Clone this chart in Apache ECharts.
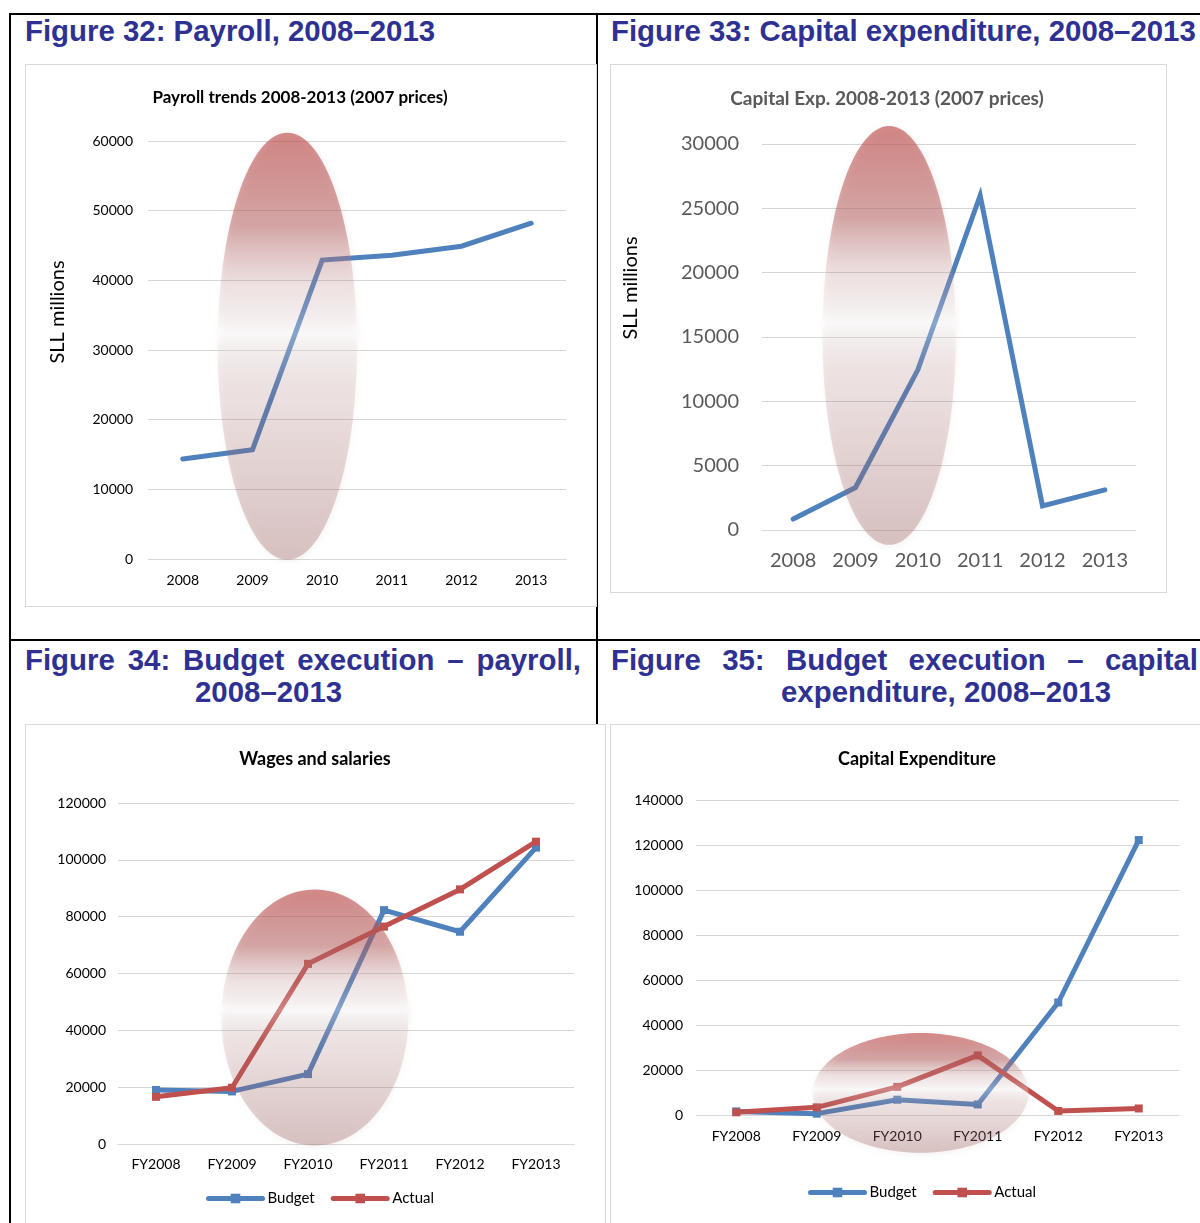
<!DOCTYPE html>
<html>
<head>
<meta charset="utf-8">
<script src="https://cdn.jsdelivr.net/npm/echarts@6/dist/echarts.min.js"></script>
<style>
  body { margin: 0; background: #fff; }
  #page { position: relative; width: 1200px; height: 1223px; overflow: hidden; background: #fff; }
  .rule { position: absolute; background: #000; }
  .head { position: absolute; font-family: "Liberation Sans", Arial, sans-serif; font-weight: bold;
          font-size: 29.4px; line-height: 32px; color: #2E3192; white-space: nowrap; }
  .just { white-space: normal; text-align: justify; text-align-last: justify; }
  .box { position: absolute; border: 1px solid #d9d9d9; box-sizing: border-box; background: #fff; }
</style>
</head>
<body>
<div id="page">
  <div class="rule" style="left:9px;top:13px;width:1191px;height:2px"></div>
  <div class="rule" style="left:9px;top:13px;width:2px;height:1210px"></div>
  <div class="rule" style="left:596px;top:13px;width:2px;height:711px"></div>
  <div class="rule" style="left:9px;top:639px;width:1191px;height:2px"></div>

  <div class="head" style="left:25px;top:15px">Figure 32: Payroll, 2008–2013</div>
  <div class="head" style="left:611px;top:15px">Figure 33: Capital expenditure, 2008–2013</div>
  <div class="head just" style="left:25px;top:644px;width:556px">Figure 34: Budget execution – payroll,</div>
  <div class="head" style="left:195px;top:676px">2008–2013</div>
  <div class="head just" style="left:611px;top:644px;width:587px">Figure 35: Budget execution – capital</div>
  <div class="head" style="left:781px;top:676px">expenditure, 2008–2013</div>

  <div id="c32" class="box" style="left:25px;top:64px;width:572px;height:543px"></div>
  <div id="c33" class="box" style="left:610px;top:64px;width:557px;height:529px"></div>
  <div id="c34" class="box" style="left:25px;top:724px;width:581px;height:520px"></div>
  <div id="c35" class="box" style="left:610px;top:724px;width:600px;height:520px"></div>
</div>
<script>
// categories
const years = ['2008', '2009', '2010', '2011', '2012', '2013'];
const fiscalYears = ['FY2008', 'FY2009', 'FY2010', 'FY2011', 'FY2012', 'FY2013'];

// Figure 32 - payroll (2007 prices), SLL millions
const payrollValues = [14350, 15700, 42900, 43600, 44900, 48200];
// Figure 33 - capital expenditure (2007 prices), SLL millions
const capexValues = [850, 3300, 12450, 26000, 1880, 3120];
// Figure 34 - wages and salaries
const wagesBudget = [19000, 18500, 24600, 82300, 74700, 104300];
const wagesActual = [16600, 19800, 63400, 76500, 89600, 106400];
// Figure 35 - capital expenditure budget execution
const capBudget = [1600, 600, 6800, 4700, 50000, 122200];
const capActual = [1200, 3400, 12500, 26500, 1800, 2900];

// highlight ellipses: [centre category, half width in categories, top value, bottom value]
const hl32 = [1.5, 1.0, 61200, -100];
const hl33 = [1.54, 1.07, 31400, -1150];
const hl34 = [2.09, 1.23, 89600, -500];
const hl35 = [2.29, 1.34, 36500, -16800];

const BLUE = '#4F81BD';
const RED = '#C0504D';
const FONT = 'Lato, "Open Sans", sans-serif';

function baseOption(o) {
  return {
    animation: false,
    textStyle: { fontFamily: FONT },
    title: {
      text: o.title, left: o.titleX, top: o.titleY, textAlign: 'center',
      textStyle: { fontFamily: FONT, fontWeight: 'bold', fontSize: o.titleSize, color: o.titleColor }
    },
    grid: o.grid,
    xAxis: {
      type: 'category', data: o.cats, boundaryGap: true,
      axisLine: { lineStyle: { color: '#d9d9d9', width: 1 } },
      axisTick: { show: false },
      axisLabel: { fontFamily: FONT, fontSize: o.labelSize, color: o.labelColor, margin: o.xMargin }
    },
    yAxis: {
      type: 'value', min: 0, max: o.max, interval: o.step,
      name: o.yName || '', nameLocation: 'middle', nameGap: o.nameGap,
      nameTextStyle: { fontFamily: FONT, fontSize: 20, color: '#000', padding: [0, 0, 0, o.nameShift || 0] },
      axisLine: { show: false }, axisTick: { show: false },
      splitLine: { lineStyle: { color: '#d6d6d6', width: 1 } },
      axisLabel: { fontFamily: FONT, fontSize: o.labelSize, color: o.labelColor, margin: o.yMargin,
                   formatter: function (v) { return String(v); } }
    },
    series: o.series
  };
}

function addHighlight(chart, hl) {
  const x0 = chart.convertToPixel({ xAxisIndex: 0 }, 0);
  const x1 = chart.convertToPixel({ xAxisIndex: 0 }, 1);
  const step = x1 - x0;
  const yTop = chart.convertToPixel({ yAxisIndex: 0 }, hl[2]);
  const yBot = chart.convertToPixel({ yAxisIndex: 0 }, hl[3]);
  chart.setOption({
    graphic: [{
      type: 'ellipse', z: 100, silent: true,
      shape: { cx: x0 + step * hl[0], cy: (yTop + yBot) / 2, rx: step * hl[1], ry: (yBot - yTop) / 2 },
      style: {
        fill: {
          type: 'linear', x: 0, y: 0, x2: 0, y2: 1,
          colorStops: [
            { offset: 0, color: 'rgba(192,80,77,0.66)' },
            { offset: 0.22, color: 'rgba(182,92,92,0.5)' },
            { offset: 0.36, color: 'rgba(200,150,150,0.22)' },
            { offset: 0.47, color: 'rgba(255,255,255,0.3)' },
            { offset: 0.62, color: 'rgba(170,110,110,0.18)' },
            { offset: 1, color: 'rgba(160,100,100,0.36)' }
          ]
        },
        shadowBlur: 6, shadowOffsetX: 1, shadowOffsetY: 2, shadowColor: 'rgba(110,80,80,0.2)'
      }
    }]
  });
}

function plainLine(values) {
  return [{ type: 'line', data: values, showSymbol: false,
            lineStyle: { color: BLUE, width: 5, join: 'miter', cap: 'round' }, itemStyle: { color: BLUE } }];
}

// Figure 32
const c32 = echarts.init(document.getElementById('c32'));
c32.setOption(baseOption({
  title: 'Payroll trends 2008-2013 (2007 prices)', titleX: 269, titleY: 19, titleSize: 17, titleColor: '#000',
  grid: { left: 122, right: 30, top: 76, bottom: 47 },
  cats: years, max: 60000, step: 10000, labelSize: 14, labelColor: '#000', xMargin: 14, yMargin: 15,
  yName: 'SLL millions', nameGap: 80, nameShift: 76,
  series: plainLine(payrollValues)
}));
addHighlight(c32, hl32);

// Figure 33
const c33 = echarts.init(document.getElementById('c33'));
c33.setOption(baseOption({
  title: 'Capital Exp. 2008-2013 (2007 prices)', titleX: 271, titleY: 19, titleSize: 19, titleColor: '#595959',
  grid: { left: 151, right: 30, top: 79, bottom: 62 },
  cats: years, max: 30000, step: 5000, labelSize: 20, labelColor: '#595959', xMargin: 21, yMargin: 23,
  yName: 'SLL millions', nameGap: 121, nameShift: 98,
  series: plainLine(capexValues)
}));
addHighlight(c33, hl33);

function budgetSeries(budget, actual) {
  return [
    { name: 'Budget', type: 'line', data: budget, symbol: 'rect', symbolSize: 8, showSymbol: true,
      lineStyle: { color: BLUE, width: 5, cap: 'round' }, itemStyle: { color: BLUE } },
    { name: 'Actual', type: 'line', data: actual, symbol: 'rect', symbolSize: 8, showSymbol: true,
      lineStyle: { color: RED, width: 5, cap: 'round' }, itemStyle: { color: RED } }
  ];
}

function legendAt(x, y) {
  return {
    legend: {
      data: ['Budget', 'Actual'], left: x, top: y, itemWidth: 54, itemHeight: 12, itemGap: 16,
      lineStyle: { width: 5, cap: 'round' },
      textStyle: { fontFamily: FONT, fontSize: 15, color: '#000' }
    }
  };
}

// Figure 34
const c34 = echarts.init(document.getElementById('c34'));
c34.setOption(baseOption({
  title: 'Wages and salaries', titleX: 284, titleY: 20, titleSize: 18, titleColor: '#000',
  grid: { left: 92, right: 31, top: 78, bottom: 99 },
  cats: fiscalYears, max: 120000, step: 20000, labelSize: 14, labelColor: '#000', xMargin: 13, yMargin: 12,
  series: budgetSeries(wagesBudget, wagesActual)
}));
c34.setOption(legendAt(175, 461));
addHighlight(c34, hl34);

// Figure 35
const c35 = echarts.init(document.getElementById('c35'));
c35.setOption(baseOption({
  title: 'Capital Expenditure', titleX: 301, titleY: 20, titleSize: 18, titleColor: '#000',
  grid: { left: 85, right: 30, top: 75, bottom: 128 },
  cats: fiscalYears, max: 140000, step: 20000, labelSize: 14, labelColor: '#000', xMargin: 14, yMargin: 13,
  series: budgetSeries(capBudget, capActual)
}));
c35.setOption(legendAt(192, 455));
addHighlight(c35, hl35);
</script>
</body>
</html>
